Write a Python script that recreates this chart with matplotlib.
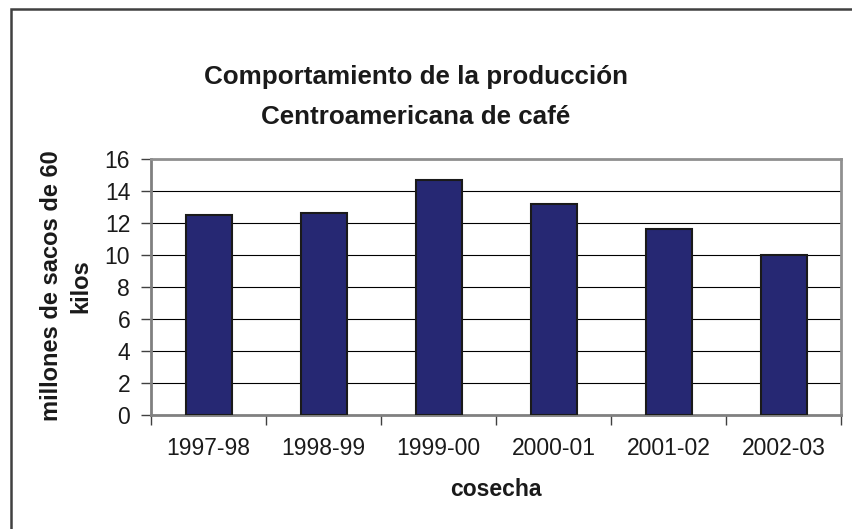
import numpy as np
import matplotlib.pyplot as plt
from matplotlib.patches import Rectangle

plt.rcParams['font.family'] = ['Liberation Sans', 'DejaVu Sans']

# harvest seasons and production (millions of 60 kg bags)
cosechas = ['1997-98', '1998-99', '1999-00', '2000-01', '2001-02', '2002-03']
produccion = [12.53, 12.6, 14.66, 13.2, 11.64, 10.0]
y_ticks = [0, 2, 4, 6, 8, 10, 12, 14, 16]

fig = plt.figure(figsize=(8.52, 5.29), dpi=100)
ax = fig.add_axes([151/852, 1 - 415/529, 690/852, 256/529])

# outer chart frame (only top and left edges fall inside the picture)
fig.patches.append(Rectangle((11/852, -0.1), 1.2, 1 - 9/529 + 0.1,
                             transform=fig.transFigure, fill=False,
                             edgecolor='#404040', linewidth=1.8))

x = np.arange(len(cosechas))
ax.bar(x, produccion, width=0.4, color='#262873', edgecolor='#1a1a1a',
       linewidth=1.5, zorder=3)

ax.set_xlim(-0.5, len(cosechas) - 0.5)
ax.set_ylim(0, 16)
ax.set_yticks(y_ticks)
ax.yaxis.grid(True, color='#000000', linewidth=0.8, zorder=0)

# category ticks sit between bars
ax.set_xticks(np.arange(-0.5, len(cosechas)), minor=False)
ax.set_xticklabels([])
ax.set_xticks(x, minor=True)
ax.set_xticklabels(cosechas, minor=True)
ax.tick_params(axis='x', which='minor', length=0, pad=16, labelsize=16.5,
               labelcolor='#1a1a1a')
ax.tick_params(axis='x', which='major', length=7, width=1, color='#404040',
               direction='out')
ax.tick_params(axis='y', length=7, width=1, color='#404040', pad=8,
               labelsize=16.5, labelcolor='#1a1a1a')

for side in ['left', 'bottom']:
    ax.spines[side].set_color('#808080')
    ax.spines[side].set_linewidth(2)
for side in ['top', 'right']:
    ax.spines[side].set_color('#909090')
    ax.spines[side].set_linewidth(2)

fig.text(416/852, 1 - 77/529, 'Comportamiento de la producción',
         ha='center', va='center', fontsize=18.7, fontweight='bold',
         color='#1a1a1a')
fig.text(416/852, 1 - 117/529, 'Centroamericana de café',
         ha='center', va='center', fontsize=18.7, fontweight='bold',
         color='#1a1a1a')
fig.text(66/852, 1 - 286/529, 'millones de sacos de 60\nkilos',
         rotation=90, ha='center', va='center', fontsize=17,
         fontweight='bold', linespacing=1.35, color='#1a1a1a')
fig.text(496/852, 1 - 490/529, 'cosecha', ha='center', va='center',
         fontsize=16.5, fontweight='bold', color='#1a1a1a')

fig.savefig('out.png', dpi=100)
